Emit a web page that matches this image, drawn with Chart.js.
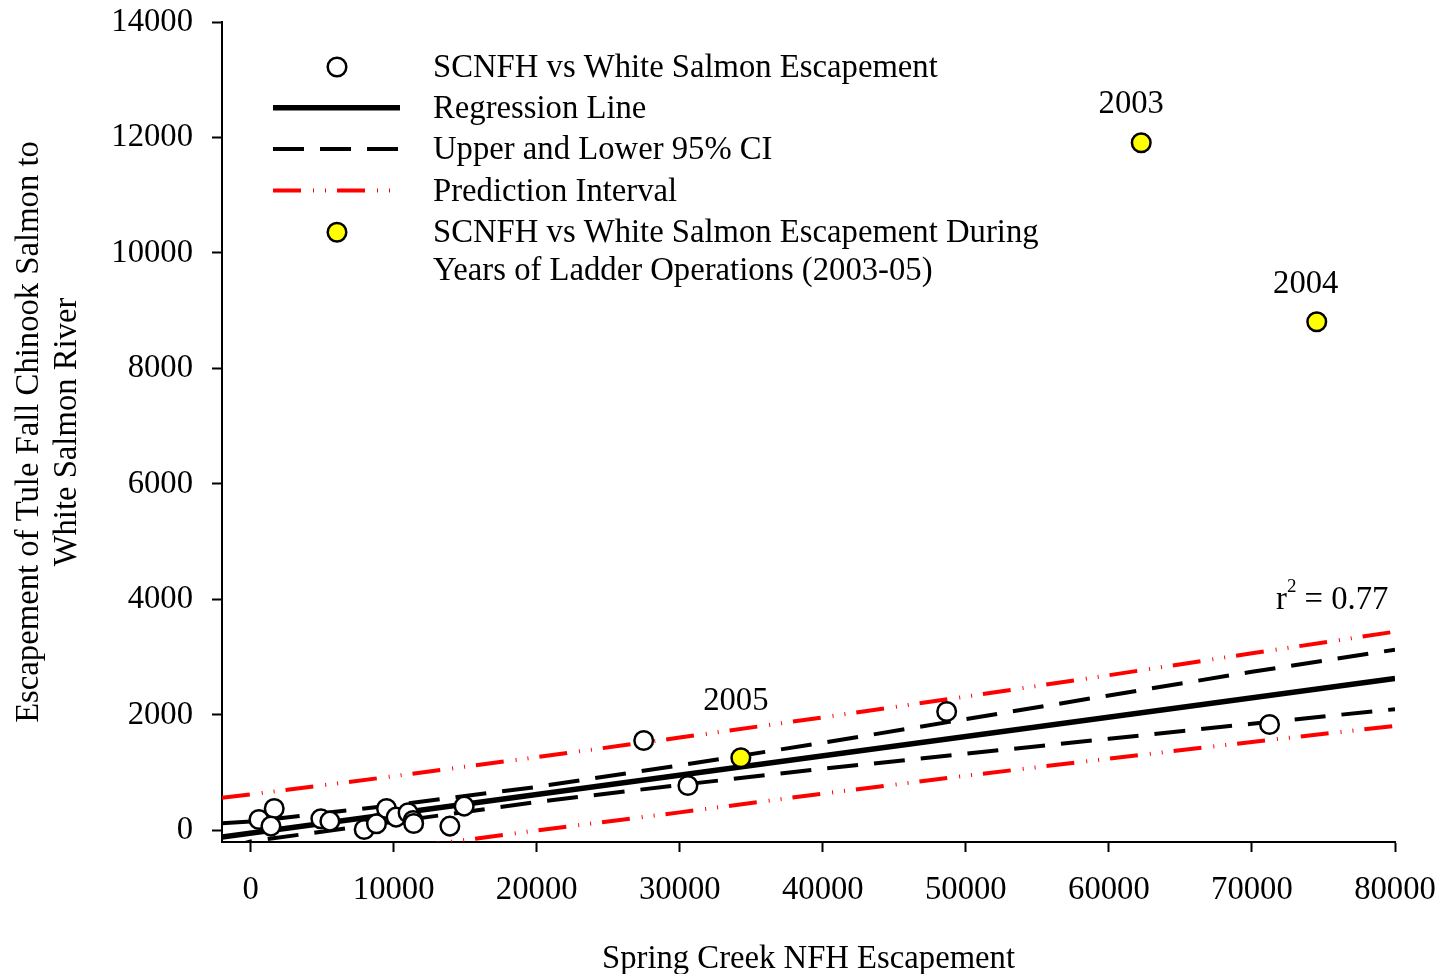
<!DOCTYPE html>
<html>
<head>
<meta charset="utf-8">
<title>Spring Creek NFH vs White Salmon River escapement</title>
<script src="https://cdn.jsdelivr.net/npm/chart.js@4.4.1/dist/chart.umd.min.js"></script>
<style>
  html, body { margin: 0; padding: 0; background: #ffffff; }
  canvas { display: block; }
</style>
</head>
<body>
<canvas id="chart" width="1443" height="974"></canvas>
<script>
// Spring Creek NFH escapement (x) vs tule fall Chinook escapement to the White Salmon River (y)
const hatcheryEsc     = [580, 1650, 1420, 4910, 5540, 7940, 8800, 9500, 10170, 11010, 11360, 11400, 13930, 14930, 27480, 30570, 48660, 71230];
const whiteSalmonEsc  = [190, 381, 75, 202, 161, 17, 116, 381, 231, 306, 173, 120, 75, 421, 1558, 779, 2061, 1835];

// Years when the ladder was operating
const ladderYears       = ['2003', '2004', '2005'];
const ladderHatchery    = [62260, 74530, 34270];
const ladderWhiteSalmon = [11910, 8810, 1260];

// Regression line and its bands
const fitX    = [-2000, 80000];
const fitY    = [-113, 2632];
const bandX   = [-2000, 0, 10000, 20000, 30000, 40000, 50000, 60000, 70000, 80000];
const ciUpper = [124, 154, 439, 754, 1128, 1518, 1928, 2338, 2748, 3130];
const ciLower = [-330, -190, 150, 494, 788, 1068, 1328, 1588, 1848, 2100];
const piUpper = [566, 624, 939, 1269, 1608, 1958, 2318, 2688, 3068, 3442];
const piLower = [-792, -670, -330, 0, 313, 638, 948, 1243, 1533, 1810];

const rSquared = '0.77';

const xTicks = [0, 10000, 20000, 30000, 40000, 50000, 60000, 70000, 80000];
const yTicks = [0, 2000, 4000, 6000, 8000, 10000, 12000, 14000];

const legendLabels = [
  ['SCNFH vs White Salmon Escapement'],
  ['Regression Line'],
  ['Upper and Lower 95% CI'],
  ['Prediction Interval'],
  ['SCNFH vs White Salmon Escapement During', 'Years of Ladder Operations (2003-05)']
];

const SERIF = "'Liberation Serif', 'Times New Roman', Times, serif";
const FONT_SIZE = 32.7;
Chart.defaults.font.family = SERIF;
Chart.defaults.font.size = FONT_SIZE;
Chart.defaults.color = '#000000';

const pairs = (xs, ys) => xs.map((x, i) => ({ x: x, y: ys[i] }));

const CI_DASH = [31, 16];
const PI_DASH = [28, 12, 1, 11, 1, 11];
const PI_RED = '#ff0000';

const lineStyle = (extra) => Object.assign({
  type: 'scatter',
  showLine: true,
  pointRadius: 0,
  pointHoverRadius: 0,
  borderColor: '#000000',
  backgroundColor: 'transparent',
  fill: false,
  tension: 0,
  clip: 0
}, extra);

const datasets = [
  {
    label: legendLabels[0][0],
    data: pairs(hatcheryEsc, whiteSalmonEsc),
    pointRadius: 9.3,
    pointHoverRadius: 9.3,
    pointBackgroundColor: '#ffffff',
    pointBorderColor: '#000000',
    pointBorderWidth: 2.5,
    showLine: false,
    order: 1
  },
  lineStyle({ label: legendLabels[1][0], data: pairs(fitX, fitY), borderWidth: 5.5, order: 3 }),
  lineStyle({ label: legendLabels[2][0], data: pairs(bandX, ciUpper), borderWidth: 4, borderDash: CI_DASH, order: 4 }),
  lineStyle({ label: legendLabels[2][0], data: pairs(bandX, ciLower), borderWidth: 4, borderDash: CI_DASH, order: 4 }),
  lineStyle({ label: legendLabels[3][0], data: pairs(bandX, piUpper), borderWidth: 4, borderDash: PI_DASH, borderColor: PI_RED, order: 5 }),
  lineStyle({ label: legendLabels[3][0], data: pairs(bandX, piLower), borderWidth: 4, borderDash: PI_DASH, borderColor: PI_RED, order: 5 }),
  {
    label: legendLabels[4].join(' '),
    data: pairs(ladderHatchery, ladderWhiteSalmon),
    pointRadius: 9.3,
    pointHoverRadius: 9.3,
    pointBackgroundColor: '#ffff00',
    pointBorderColor: '#000000',
    pointBorderWidth: 2.5,
    showLine: false,
    order: 0
  }
];

// Legend drawn inside the plot area, styled from the datasets themselves
const insetLegend = {
  id: 'insetLegend',
  afterDraw(chart) {
    const ctx = chart.ctx;
    const ds = chart.data.datasets;
    const symLeft = 273, symRight = 400, symCenter = 337, textX = 433;
    const rows = [
      { y: 67,    set: ds[0], kind: 'point', text: legendLabels[0] },
      { y: 107.7, set: ds[1], kind: 'line',  text: legendLabels[1] },
      { y: 149,   set: ds[2], kind: 'line',  text: legendLabels[2] },
      { y: 190.5, set: ds[4], kind: 'line',  text: legendLabels[3] },
      { y: 232.3, set: ds[6], kind: 'point', text: legendLabels[4] }
    ];
    ctx.save();
    rows.forEach(row => {
      if (row.kind === 'point') {
        ctx.beginPath();
        ctx.setLineDash([]);
        ctx.arc(symCenter, row.y, row.set.pointRadius, 0, Math.PI * 2);
        ctx.fillStyle = row.set.pointBackgroundColor;
        ctx.fill();
        ctx.lineWidth = row.set.pointBorderWidth;
        ctx.strokeStyle = row.set.pointBorderColor;
        ctx.stroke();
      } else {
        ctx.beginPath();
        ctx.setLineDash(row.set.borderDash || []);
        ctx.lineCap = 'butt';
        ctx.lineWidth = row.set.borderWidth;
        ctx.strokeStyle = row.set.borderColor;
        ctx.moveTo(symLeft, row.y);
        ctx.lineTo(symRight, row.y);
        ctx.stroke();
      }
      ctx.setLineDash([]);
      ctx.fillStyle = '#000000';
      ctx.font = FONT_SIZE + 'px ' + SERIF;
      ctx.textAlign = 'left';
      ctx.textBaseline = 'alphabetic';
      row.text.forEach((line, i) => {
        ctx.fillText(line, textX, row.y + 10 + i * 38);
      });
    });
    ctx.restore();
  }
};

// Year labels over the ladder-operation points, and the r-squared note
const pointNotes = {
  id: 'pointNotes',
  afterDraw(chart) {
    const ctx = chart.ctx;
    const xs = chart.scales.x, ys = chart.scales.y;
    const offsets = [[-10, -30], [-11, -29], [-5, -48]];
    ctx.save();
    ctx.fillStyle = '#000000';
    ctx.font = FONT_SIZE + 'px ' + SERIF;
    ctx.textAlign = 'center';
    ctx.textBaseline = 'alphabetic';
    ladderYears.forEach((yr, i) => {
      const px = xs.getPixelForValue(ladderHatchery[i]);
      const py = ys.getPixelForValue(ladderWhiteSalmon[i]);
      ctx.fillText(yr, px + offsets[i][0], py + offsets[i][1]);
    });

    const area = chart.chartArea;
    const baseY = 609;
    let x0 = area.right - 119;
    ctx.textAlign = 'left';
    ctx.fillText('r', x0, baseY);
    x0 += ctx.measureText('r').width;
    ctx.font = '19px ' + SERIF;
    ctx.fillText('2', x0, baseY - 17);
    x0 += ctx.measureText('2').width;
    ctx.font = FONT_SIZE + 'px ' + SERIF;
    ctx.fillText(' = ' + rSquared, x0, baseY);
    ctx.restore();
  }
};

const axisGrid = {
  display: true,
  drawOnChartArea: false,
  drawTicks: true,
  tickLength: 10,
  tickWidth: 2,
  tickColor: '#000000',
  color: '#000000'
};

new Chart(document.getElementById('chart'), {
  type: 'scatter',
  data: { datasets: datasets },
  options: {
    responsive: false,
    devicePixelRatio: 1,
    animation: false,
    events: [],
    layout: { padding: { left: 0, right: 48, top: 22, bottom: 0 } },
    plugins: {
      legend: { display: false },
      tooltip: { enabled: false }
    },
    scales: {
      x: {
        type: 'linear',
        min: -2000,
        max: 80000,
        afterBuildTicks: s => { s.ticks = xTicks.map(v => ({ value: v })); },
        afterFit: s => { s.height = 132; s.paddingLeft = 0; s.paddingRight = 0; },
        border: { display: true, color: '#000000', width: 2 },
        grid: axisGrid,
        ticks: {
          color: '#000000',
          padding: 19,
          maxRotation: 0,
          autoSkip: false,
          font: { size: FONT_SIZE },
          callback: v => String(v)
        },
        title: {
          display: true,
          text: 'Spring Creek NFH Escapement',
          color: '#000000',
          font: { size: FONT_SIZE },
          padding: { top: 0, bottom: -5 }
        }
      },
      y: {
        type: 'linear',
        min: -200,
        max: 14000,
        afterBuildTicks: s => { s.ticks = yTicks.map(v => ({ value: v })); },
        afterFit: s => { s.width = 222; s.paddingTop = 0; s.paddingBottom = 0; },
        border: { display: true, color: '#000000', width: 2 },
        grid: axisGrid,
        ticks: {
          color: '#000000',
          padding: 19,
          autoSkip: false,
          font: { size: FONT_SIZE },
          callback: v => String(v)
        },
        title: {
          display: true,
          text: ['Escapement of Tule Fall Chinook Salmon to', 'White Salmon River'],
          color: '#000000',
          font: { size: FONT_SIZE, lineHeight: 1.18 },
          padding: { top: 10, bottom: 0 }
        }
      }
    }
  },
  plugins: [insetLegend, pointNotes]
});
</script>
</body>
</html>
